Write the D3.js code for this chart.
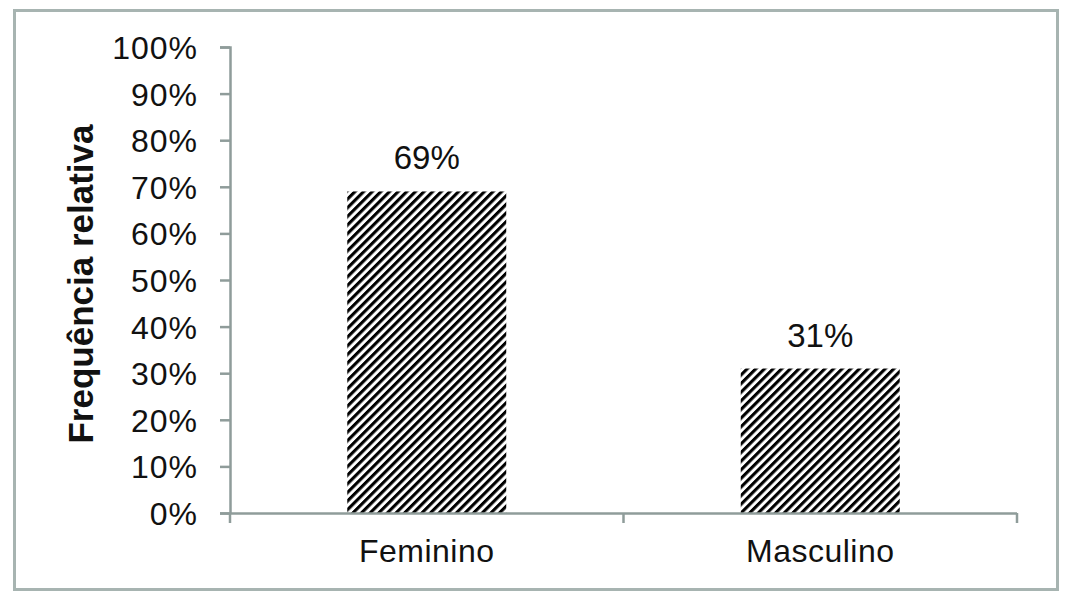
<!DOCTYPE html>
<html>
<head>
<meta charset="utf-8">
<script src="https://cdn.jsdelivr.net/npm/d3@7"></script>
<style>
	body { margin: 0; background: #fff; }
	text { font-family: "Liberation Sans", Arial, sans-serif; fill: #111; }
</style>
</head>
<body>
<div id="chart"></div>
<script>
// Data
const categories = ["Feminino", "Masculino"];
const values = [69, 31];
const yTicks = [0, 10, 20, 30, 40, 50, 60, 70, 80, 90, 100];
const yLabel = "Frequência relativa";

// Dimensions
const W = 1068, H = 604;
const margin = {top: 47, right: 51, bottom: 91, left: 230};
const width = W - margin.left - margin.right;
const height = H - margin.top - margin.bottom;
const axisColor = "#8f9c9a";

const svg = d3.select("#chart").append("svg")
	.attr("width", W)
	.attr("height", H);

// Outer frame
svg.append("rect")
	.attr("x", 14.5).attr("y", 10.5)
	.attr("width", 1043).attr("height", 579)
	.attr("fill", "none")
	.attr("stroke", "#a7b4b1")
	.attr("stroke-width", 3);

// Hatch pattern
const hs = 6.1;
const pat = svg.append("defs").append("pattern")
	.attr("id", "hatch")
	.attr("patternUnits", "userSpaceOnUse")
	.attr("width", hs).attr("height", hs)
	.attr("patternTransform", "rotate(45)");
pat.append("rect").attr("width", hs).attr("height", hs).attr("fill", "#fff");
pat.append("rect").attr("x", 0).attr("width", 3.1).attr("height", hs).attr("fill", "#000");

const g = svg.append("g")
	.attr("transform", "translate(" + margin.left + "," + margin.top + ")");

// Scales
const x = d3.scaleBand()
	.domain(categories)
	.range([0, width])
	.paddingInner(0.596)
	.paddingOuter(0.298);
const y = d3.scaleLinear()
	.domain([0, 100])
	.range([height, 0]);

// Bars
g.selectAll(".bar")
	.data(categories)
	.enter().append("rect")
	.attr("class", "bar")
	.attr("x", d => x(d))
	.attr("y", (d, i) => y(values[i]))
	.attr("width", x.bandwidth())
	.attr("height", (d, i) => height - y(values[i]))
	.attr("fill", "url(#hatch)");

// Value labels
g.selectAll(".val")
	.data(categories)
	.enter().append("text")
	.attr("class", "val")
	.attr("x", d => x(d) + x.bandwidth() / 2)
	.attr("y", (d, i) => y(values[i]) - 22)
	.style("text-anchor", "middle")
	.style("font-size", "33px")
	.text((d, i) => values[i] + "%");

// Y axis
const yAxis = g.append("g")
	.call(d3.axisLeft(y).tickValues(yTicks).tickSize(10).tickPadding(22)
		.tickFormat(d => d + "%"));
yAxis.select(".domain").attr("d", "M-10,0.5H0.5V" + height).attr("stroke", axisColor).attr("stroke-width", 2.5);
yAxis.selectAll(".tick line").attr("stroke", axisColor).attr("stroke-width", 2.5);
yAxis.selectAll(".tick text")
	.style("font-size", "32px")
	.style("letter-spacing", "1px")
	.attr("dy", "0.36em")
	.attr("fill", "#111");

// X axis
const xAxis = g.append("g")
	.attr("transform", "translate(0," + height + ")")
	.call(d3.axisBottom(x).tickSize(0).tickPadding(26));
xAxis.select(".domain").attr("d", "M-10,0.5H" + width).attr("stroke", axisColor).attr("stroke-width", 2.5);
xAxis.selectAll(".tick text")
	.style("font-size", "32px")
	.style("letter-spacing", "0.5px")
	.attr("fill", "#111");
// boundary ticks between categories
const bounds = [0, width / 2, width];
xAxis.selectAll(".bound")
	.data(bounds)
	.enter().append("line")
	.attr("x1", d => d).attr("x2", d => d)
	.attr("y1", 0).attr("y2", 10)
	.attr("stroke", axisColor)
	.attr("stroke-width", 2.5);

// Y label
svg.append("text")
	.attr("transform", "translate(93,284) rotate(-90)")
	.style("text-anchor", "middle")
	.style("font-size", "35px")
	.style("font-weight", 700)
	.text(yLabel);
</script>
</body>
</html>
